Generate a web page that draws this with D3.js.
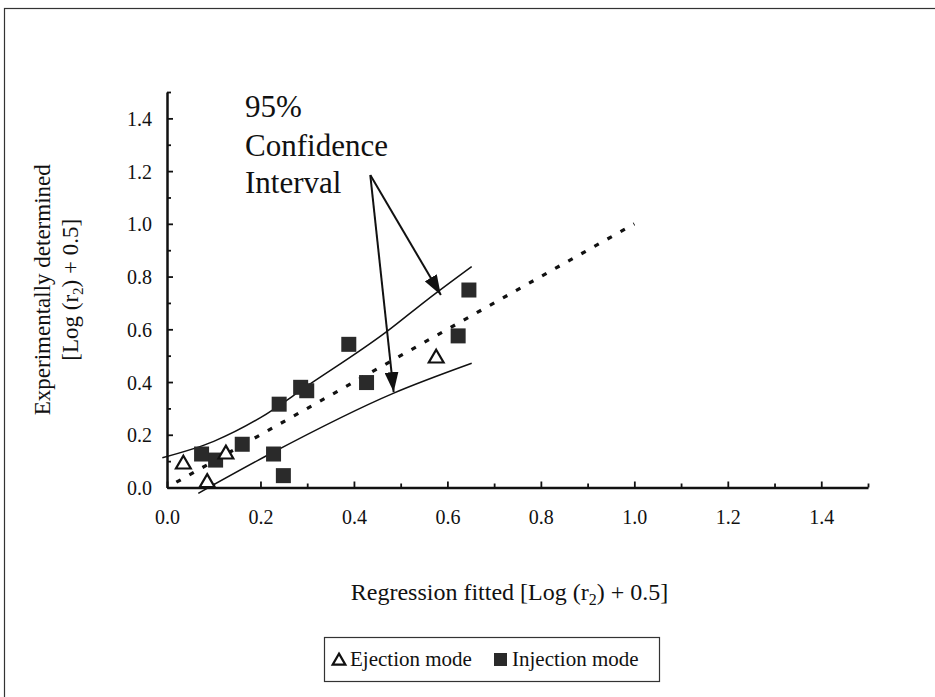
<!DOCTYPE html>
<html>
<head>
<meta charset="utf-8">
<script src="https://cdn.jsdelivr.net/npm/d3@7"></script>
<style>
  html, body { margin: 0; padding: 0; background: #fff; }
  svg { display: block; font-family: "Liberation Serif", "Times New Roman", serif; }
</style>
</head>
<body>
<svg id="chart" width="935" height="697"></svg>
<script>
  // values
  const ejectionX = [0.035, 0.086, 0.126, 0.576];
  const ejectionY = [0.092, 0.022, 0.130, 0.494];

  const injectionX = [0.074, 0.104, 0.161, 0.228, 0.249, 0.240, 0.286, 0.299, 0.389, 0.427, 0.623, 0.646];
  const injectionY = [0.127, 0.104, 0.164, 0.127, 0.045, 0.316, 0.380, 0.367, 0.543, 0.398, 0.575, 0.749];

  const fitX = [0.02, 1.0];
  const fitY = [0.02, 1.0];

  const upperX = [-0.01, 0.1, 0.2, 0.3, 0.47, 0.556, 0.652];
  const upperY = [0.113, 0.175, 0.265, 0.385, 0.591, 0.711, 0.838];

  const lowerX = [0.067, 0.22, 0.484, 0.652];
  const lowerY = [-0.022, 0.127, 0.357, 0.471];

  const tickValues = [0, 0.1, 0.2, 0.3, 0.4, 0.5, 0.6, 0.7, 0.8, 0.9, 1.0, 1.1, 1.2, 1.3, 1.4, 1.5];
  const tickLabels = ['0.0', '0.2', '0.4', '0.6', '0.8', '1.0', '1.2', '1.4'];

  const noteLines = ['95%', 'Confidence', 'Interval'];
  const noteX = 0.167;
  const noteY = [1.405, 1.257, 1.117];
  const arrowFrom = [0.435, 1.185];
  const arrowTips = [[0.586, 0.730], [0.485, 0.362]];

  const svg = d3.select('#chart');
  const ink = '#111';
  const serif = '"Liberation Serif", "Times New Roman", serif';

  // outer frame (only left/top edges fall inside the picture)
  svg.append('rect')
    .attr('x', 4.5).attr('y', 8.5)
    .attr('width', 1000).attr('height', 800)
    .attr('fill', 'none').attr('stroke', '#333').attr('stroke-width', 1.2);

  const x = d3.scaleLinear().domain([0, 1.5]).range([167, 868]);
  const y = d3.scaleLinear().domain([0, 1.5]).range([487.5, 92]);

  const isMajor = (v) => Math.abs(Math.round(v * 10) % 2) === 0;
  const fmt = (v) => tickLabels.find((t) => Math.abs(+t - v) < 1e-6) || '';

  // x axis
  const xAxis = d3.axisBottom(x).tickValues(tickValues).tickSize(0).tickFormat(fmt);
  svg.append('g')
    .attr('transform', `translate(0,${y(0)})`)
    .call(xAxis)
    .attr('font-family', serif)
    .attr('font-size', 20)
    .call((g) => g.select('.domain').attr('stroke', ink).attr('stroke-width', 2.5))
    .call((g) => g.selectAll('.tick line')
      .attr('y2', (d) => (isMajor(d) ? -6 : -4))
      .attr('stroke', ink).attr('stroke-width', 1.8))
    .call((g) => g.selectAll('.tick text')
      .attr('y', 22).attr('dy', '0.71em').attr('fill', ink));

  // y axis
  const yAxis = d3.axisLeft(y).tickValues(tickValues).tickSize(0).tickFormat(fmt);
  svg.append('g')
    .attr('transform', `translate(${x(0)},0)`)
    .call(yAxis)
    .attr('font-family', serif)
    .attr('font-size', 20)
    .call((g) => g.select('.domain').attr('stroke', ink).attr('stroke-width', 2.5))
    .call((g) => g.selectAll('.tick line')
      .attr('x2', (d) => (isMajor(d) ? 6 : 4))
      .attr('stroke', ink).attr('stroke-width', 1.8))
    .call((g) => g.selectAll('.tick text')
      .attr('x', -15).attr('dy', '0.35em').attr('fill', ink));

  // axis titles
  const yTitle = svg.append('g')
    .attr('transform', `translate(0,${(y(0) + y(1.5)) / 2}) rotate(-90)`)
    .attr('text-anchor', 'middle')
    .attr('font-family', serif)
    .attr('font-size', 23)
    .attr('fill', ink);
  yTitle.append('text').attr('x', 0).attr('y', 50).text('Experimentally determined');
  const yt2 = yTitle.append('text').attr('x', 0).attr('y', 78);
  yt2.append('tspan').text('[Log (r');
  yt2.append('tspan').attr('font-size', 15).attr('dy', 5).text('2');
  yt2.append('tspan').attr('dy', -5).text(') + 0.5]');

  const xt = svg.append('text')
    .attr('x', (x(0) + x(1.5)) / 2 - 8)
    .attr('y', 600)
    .attr('text-anchor', 'middle')
    .attr('font-family', serif)
    .attr('font-size', 24)
    .attr('fill', ink);
  xt.append('tspan').text('Regression fitted [Log (r');
  xt.append('tspan').attr('font-size', 16).attr('dy', 5).text('2');
  xt.append('tspan').attr('dy', -5).text(') + 0.5]');

  // confidence band lines
  const toPts = (xs, ys) => xs.map((v, i) => [v, ys[i]]);
  const line = d3.line().x((d) => x(d[0])).y((d) => y(d[1])).curve(d3.curveMonotoneX);

  svg.append('path')
    .datum(toPts(upperX, upperY))
    .attr('fill', 'none').attr('stroke', ink).attr('stroke-width', 1.5)
    .attr('d', line);

  svg.append('path')
    .datum(toPts(lowerX, lowerY))
    .attr('fill', 'none').attr('stroke', ink).attr('stroke-width', 1.5)
    .attr('d', line);

  // regression (dotted)
  svg.append('path')
    .datum(toPts(fitX, fitY))
    .attr('fill', 'none').attr('stroke', ink).attr('stroke-width', 3.2)
    .attr('stroke-dasharray', '5,10')
    .attr('d', d3.line().x((d) => x(d[0])).y((d) => y(d[1])));

  // markers
  const sq = 15;
  svg.append('g')
    .selectAll('rect')
    .data(toPts(injectionX, injectionY))
    .join('rect')
    .attr('x', (d) => x(d[0]) - sq / 2)
    .attr('y', (d) => y(d[1]) - sq / 2)
    .attr('width', sq).attr('height', sq)
    .attr('fill', '#2a2a2a');

  const tri = d3.symbol().type(d3.symbolTriangle).size(95);
  svg.append('g')
    .selectAll('path')
    .data(toPts(ejectionX, ejectionY))
    .join('path')
    .attr('transform', (d) => `translate(${x(d[0])},${y(d[1]) + 1})`)
    .attr('d', tri)
    .attr('fill', '#fff').attr('stroke', ink).attr('stroke-width', 2.2);

  // annotation
  const note = svg.append('g')
    .attr('font-family', serif)
    .attr('font-size', 31)
    .attr('fill', ink);
  noteLines.forEach((t, i) => {
    note.append('text').attr('x', x(noteX)).attr('y', y(noteY[i])).text(t);
  });

  svg.append('defs').append('marker')
    .attr('id', 'head')
    .attr('viewBox', '0 0 20 14')
    .attr('refX', 20).attr('refY', 7)
    .attr('markerWidth', 20).attr('markerHeight', 14)
    .attr('markerUnits', 'userSpaceOnUse')
    .attr('orient', 'auto')
    .append('path').attr('d', 'M0,0 L20,7 L0,14 Z').attr('fill', ink);

  arrowTips.forEach((tip) => {
    svg.append('line')
      .attr('x1', x(arrowFrom[0])).attr('y1', y(arrowFrom[1]))
      .attr('x2', x(tip[0])).attr('y2', y(tip[1]))
      .attr('stroke', ink).attr('stroke-width', 2)
      .attr('marker-end', 'url(#head)');
  });

  // legend
  const lg = svg.append('g')
    .attr('transform', 'translate(324,637)')
    .attr('font-family', serif);
  lg.append('rect')
    .attr('x', 0.5).attr('y', 0.5).attr('width', 335).attr('height', 44)
    .attr('fill', '#fff').attr('stroke', '#333').attr('stroke-width', 1.2);
  lg.append('path')
    .attr('transform', 'translate(15,24)')
    .attr('d', d3.symbol().type(d3.symbolTriangle).size(70))
    .attr('fill', '#fff').attr('stroke', ink).attr('stroke-width', 2.2);
  lg.append('text').attr('x', 26).attr('y', 29).attr('font-size', 21).attr('fill', ink).text('Ejection mode');
  lg.append('rect').attr('x', 170).attr('y', 16).attr('width', 13).attr('height', 13).attr('fill', '#2a2a2a');
  lg.append('text').attr('x', 188).attr('y', 29).attr('font-size', 21).attr('fill', ink).text('Injection mode');
</script>
</body>
</html>
